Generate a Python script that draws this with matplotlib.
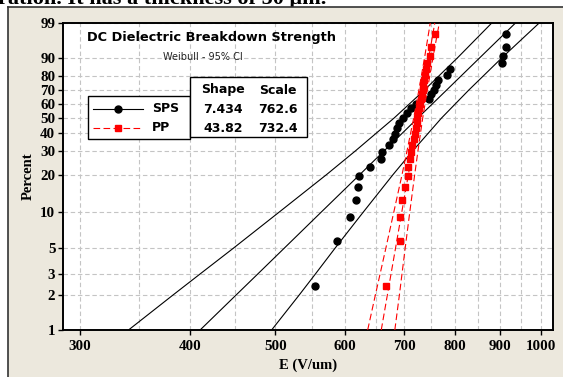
import numpy as np
import matplotlib
matplotlib.use("Agg")
import matplotlib.pyplot as plt
from matplotlib.patches import Rectangle
from matplotlib.lines import Line2D
from matplotlib.ticker import FixedLocator, NullFormatter

# plotting positions (percent) shared by both samples, n = 29
percent = [2.4, 5.8, 9.2, 12.6, 16.0, 19.4, 22.8, 26.2, 29.6, 33.0, 36.4, 39.8, 43.2, 46.6, 50.0,
           53.4, 56.8, 60.2, 63.6, 67.0, 70.4, 73.8, 77.2, 80.6, 84.0, 87.4, 90.8, 94.2, 97.6]

# breakdown strength (V/um), sorted
sps_E = [553.9, 587.3, 607.0, 617.4, 619.9, 622.6, 640.0, 658.6, 661.2, 673.5, 680.6, 683.3, 687.4,
         690.5, 697.3, 705.4, 713.4, 722.8, 747.8, 751.1, 756.3, 760.3, 764.2, 783.3, 790.0,
         904.5, 907.0, 912.4, 914.0]
pp_E = [667.9, 692.0, 693.1, 696.2, 701.0, 706.5, 707.8, 710.6, 712.8, 715.3, 717.7, 720.0, 721.8,
        723.8, 724.7, 726.6, 728.5, 730.4, 732.3, 733.7, 735.6, 736.2, 738.1, 739.0, 741.0,
        743.9, 748.8, 750.8, 758.3]

# fitted line and 95% CI, read at these percent levels
levels = [1, 2, 3, 5, 10, 20, 30, 50, 70, 90, 99]
sps_fit = [410.7, 451.2, 476.9, 511.5, 563.4, 623.3, 663.8, 725.8, 781.9, 853.1, 936.5]
sps_lo = [340.6, 382.6, 410.0, 447.8, 504.7, 571.4, 615.8, 682.2, 737.8, 805.0, 880.2]
sps_hi = [495.1, 532.1, 554.6, 584.2, 628.9, 679.9, 715.5, 772.2, 828.6, 904.0, 996.4]
pp_fit = [659.4, 670.0, 676.3, 684.4, 695.7, 707.8, 715.4, 726.3, 735.5, 746.5, 758.4]
pp_lo = [636.4, 649.3, 657.2, 667.3, 681.3, 696.2, 705.2, 717.8, 727.5, 738.4, 749.5]
pp_hi = [683.2, 691.4, 696.0, 701.9, 710.4, 719.6, 725.7, 734.9, 743.7, 754.8, 767.4]

table_rows = [("Shape", "Scale"), ("7.434", "762.6"), ("43.82", "732.4")]

xticks = [300, 400, 500, 600, 700, 800, 900, 1000]
xminor = [350, 450, 550, 650, 750, 850, 950]
yticks = [1, 2, 3, 5, 10, 20, 30, 40, 50, 60, 70, 80, 90, 99]


def fwd(p):
    p = np.asarray(p, dtype=float)
    with np.errstate(all='ignore'):
        return np.log(-np.log(1 - p / 100.0))


def inv(w):
    w = np.asarray(w, dtype=float)
    return 100.0 * (1 - np.exp(-np.exp(w)))


W, H = 563, 377
BEIGE = '#ece8dd'


def fx(px):
    return px / W


def fy(py):
    return 1 - py / H


fig = plt.figure(figsize=(W / 100, H / 100), dpi=100)
fig.patch.set_facecolor('white')

# page text cut off above the graph
fig.text(fx(-2), fy(4), "ration. It has a thickness of 50 \u03bcm.", fontsize=16,
         family='Liberation Serif', fontweight='bold', va='baseline', ha='left', zorder=-3)
fig.add_artist(Rectangle((fx(8), 0), 1, fy(7), transform=fig.transFigure,
                         facecolor=BEIGE, edgecolor='none', zorder=-2))
fig.add_artist(Line2D([fx(8), 1], [fy(7), fy(7)], color='#333333', lw=1.2, zorder=-1))
fig.add_artist(Line2D([fx(8), fx(8)], [0, fy(7)], color='#333333', lw=1.2, zorder=-1))

ax = fig.add_axes([fx(63), fy(330), fx(553) - fx(63), fy(23) - fy(330)])
ax.set_facecolor('white')
ax.set_xscale('log')
ax.set_yscale('function', functions=(fwd, inv))
ax.set_xlim(287, 1033)
ax.set_ylim(1, 99)

ax.xaxis.set_major_locator(FixedLocator(xticks))
ax.xaxis.set_minor_locator(FixedLocator(xminor))
ax.xaxis.set_minor_formatter(NullFormatter())
ax.set_xticklabels([str(t) for t in xticks])
ax.yaxis.set_major_locator(FixedLocator(yticks))
ax.yaxis.set_minor_locator(FixedLocator([]))
ax.set_yticklabels([str(t) for t in yticks])

grid_kw = dict(color='#c4c4c4', linestyle=(0, (4, 2.5)), linewidth=0.8)
ax.grid(True, which='major', **grid_kw)
ax.grid(True, which='minor', axis='x', **grid_kw)
ax.set_axisbelow(True)

ax.tick_params(which='major', direction='out', length=3.5, width=1, color='black')
ax.tick_params(axis='x', which='major', pad=4)
ax.tick_params(axis='y', which='major', pad=2)
ax.tick_params(which='minor', length=0)
for lab in ax.get_xticklabels() + ax.get_yticklabels():
    lab.set_family('Liberation Serif')
    lab.set_fontweight('bold')
    lab.set_fontsize(10.8)
for sp in ax.spines.values():
    sp.set_linewidth(1.4)
    sp.set_color('black')

ax.set_xlabel('E (V/um)', family='Liberation Serif', fontweight='bold', fontsize=10.5, labelpad=4)
ax.set_ylabel('Percent', family='Liberation Serif', fontweight='bold', fontsize=10.5, labelpad=4)

# SPS: fit + CI (black)
for xs in (sps_lo, sps_fit, sps_hi):
    ax.plot(xs, levels, color='black', lw=0.8, zorder=2)
ax.plot(sps_E, percent, 'o', color='black', ms=5, zorder=3)

# PP: fit + CI (red dashed)
for xs in (pp_lo, pp_fit, pp_hi):
    ax.plot(xs, levels, color='red', lw=0.8, dashes=(6, 3), zorder=4)
ax.plot(pp_E, percent, 's', color='red', ms=4.8, zorder=5)

# title
fig.text(fx(87), fy(38), 'DC Dielectric Breakdown Strength', fontsize=9.3, fontweight='bold',
         family='DejaVu Sans', va='center', ha='left')
fig.text(fx(203), fy(57.5), 'Weibull - 95% CI', fontsize=7, family='DejaVu Sans',
         va='center', ha='center', color='#222222')

# legend box
fig.add_artist(Rectangle((fx(88), fy(139)), fx(190) - fx(88), fy(96) - fy(139),
                         transform=fig.transFigure, facecolor='white', edgecolor='black',
                         lw=1.0, zorder=6))
fig.add_artist(Line2D([fx(93), fx(118), fx(143)], [fy(108.7)] * 3, color='black', lw=0.8,
                      marker='o', ms=5, markevery=[1], zorder=7))
fig.add_artist(Line2D([fx(93), fx(118), fx(143)], [fy(128)] * 3, color='red', lw=0.8,
                      dashes=(6, 3), marker='s', ms=4.8, markevery=[1], zorder=7))
fig.text(fx(152), fy(108.7), 'SPS', fontsize=9, fontweight='bold', family='DejaVu Sans',
         va='center', ha='left', zorder=8)
fig.text(fx(152), fy(128), 'PP', fontsize=9, fontweight='bold', family='DejaVu Sans',
         va='center', ha='left', zorder=8)

# parameter table
fig.add_artist(Rectangle((fx(190), fy(137)), fx(307) - fx(190), fy(77) - fy(137),
                         transform=fig.transFigure, facecolor='white', edgecolor='black',
                         lw=1.0, zorder=6))
for row, ypix in zip(table_rows, [90, 109.5, 129]):
    fig.text(fx(223), fy(ypix), row[0], fontsize=9, fontweight='bold', family='DejaVu Sans',
             va='center', ha='center', zorder=8)
    fig.text(fx(278), fy(ypix), row[1], fontsize=9, fontweight='bold', family='DejaVu Sans',
             va='center', ha='center', zorder=8)

fig.savefig('out.png', dpi=100)
